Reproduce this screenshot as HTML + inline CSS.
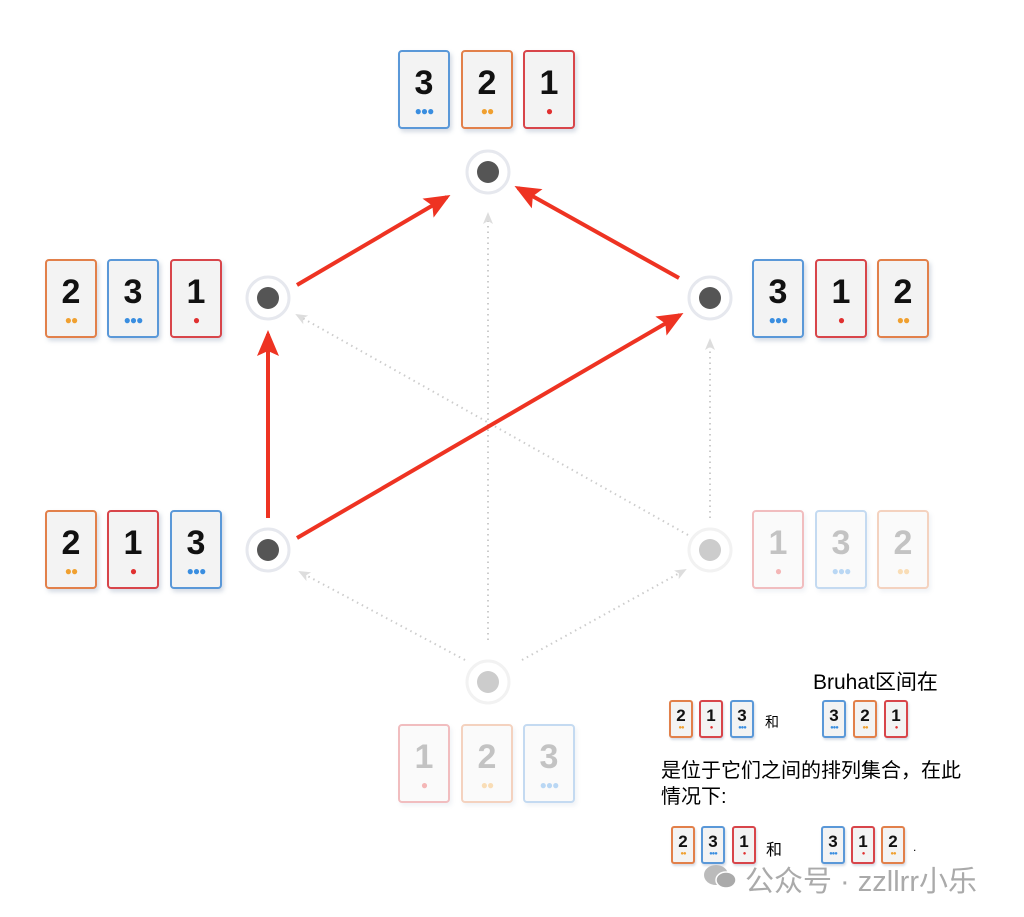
<!DOCTYPE html>
<html><head><meta charset="utf-8"><style>
body{margin:0;width:1024px;height:917px;background:#fff;position:relative;overflow:hidden;font-family:"Liberation Sans","Noto Sans CJK SC",sans-serif}
.c{position:absolute;width:48px;height:75px;border:2px solid;border-radius:4px;background:#f3f3f3;box-shadow:2px 3px 4px rgba(120,140,170,.3);text-align:center}
.c b{display:block;font-size:34px;font-weight:bold;line-height:34px;margin-top:14px;color:#111}
.c i{display:block;font-style:normal;font-size:12px;line-height:12px;margin-top:5px;letter-spacing:-1px}
.s{position:absolute;width:20px;height:34px;border:2px solid;border-radius:3px;background:#f3f3f3;text-align:center;box-shadow:1px 2px 2px rgba(120,140,170,.3)}
.s b{display:block;font-size:17px;line-height:17px;margin-top:5px;color:#111}
.s i{display:block;font-style:normal;font-size:6px;line-height:6px;margin-top:1px;letter-spacing:-1px}
.B{border-color:#5a98d8}.O{border-color:#e2804a}.R{border-color:#d8454a}
.B i{color:#3a8ee0}.O i{color:#f0a030}.R i{color:#e03030}
.f{opacity:.35}.f b{color:#555}
.t{position:absolute;color:#000;white-space:nowrap}
</style></head><body>
<svg width="1024" height="917" style="position:absolute;left:0;top:0">
<defs>
<marker id="ra" markerWidth="26" markerHeight="22" refX="22" refY="11" orient="auto" markerUnits="userSpaceOnUse"><path d="M0,0L26,11L0,22L5,11z" fill="#ee3322"/></marker>
<marker id="g" markerWidth="12" markerHeight="10" refX="10" refY="5" orient="auto" markerUnits="userSpaceOnUse"><path d="M0,0L12,5L0,10L3,5z" fill="#ddd"/></marker>
</defs>
<g stroke="#ccc" stroke-width="2" stroke-dasharray="1.5 4" fill="none">
<line x1="488" y1="640" x2="488" y2="214" marker-end="url(#g)"/>
<line x1="465" y1="660" x2="300" y2="572" marker-end="url(#g)"/>
<line x1="522" y1="660" x2="685" y2="570" marker-end="url(#g)"/>
<line x1="688" y1="535" x2="297" y2="315" marker-end="url(#g)"/>
<line x1="710" y1="518" x2="710" y2="340" marker-end="url(#g)"/>
</g>
<g stroke="#ee3322" stroke-width="4" fill="none">
<line x1="297" y1="285" x2="447" y2="197" marker-end="url(#ra)"/>
<line x1="679" y1="278" x2="518" y2="188" marker-end="url(#ra)"/>
<line x1="268" y1="518" x2="268" y2="334" marker-end="url(#ra)"/>
<line x1="297" y1="538" x2="680" y2="315" marker-end="url(#ra)"/>
</g>
<g fill="#fff" stroke="#e6e8ee" stroke-width="3">
<circle cx="488" cy="172" r="21"/><circle cx="268" cy="298" r="21"/><circle cx="710" cy="298" r="21"/>
<circle cx="268" cy="550" r="21"/><circle cx="710" cy="550" r="21" stroke="#f2f2f2"/><circle cx="488" cy="682" r="21" stroke="#f2f2f2"/>
</g>
<g fill="#555"><circle cx="488" cy="172" r="11"/><circle cx="268" cy="298" r="11"/><circle cx="710" cy="298" r="11"/><circle cx="268" cy="550" r="11"/></g>
<g fill="#ccc"><circle cx="710" cy="550" r="11"/><circle cx="488" cy="682" r="11"/></g>
</svg>

<div class="c B" style="left:398px;top:50px"><b>3</b><i>●●●</i></div>
<div class="c O" style="left:461px;top:50px"><b>2</b><i>●●</i></div>
<div class="c R" style="left:523px;top:50px"><b>1</b><i>●</i></div>

<div class="c O" style="left:45px;top:259px"><b>2</b><i>●●</i></div>
<div class="c B" style="left:107px;top:259px"><b>3</b><i>●●●</i></div>
<div class="c R" style="left:170px;top:259px"><b>1</b><i>●</i></div>

<div class="c B" style="left:752px;top:259px"><b>3</b><i>●●●</i></div>
<div class="c R" style="left:815px;top:259px"><b>1</b><i>●</i></div>
<div class="c O" style="left:877px;top:259px"><b>2</b><i>●●</i></div>

<div class="c O" style="left:45px;top:510px"><b>2</b><i>●●</i></div>
<div class="c R" style="left:107px;top:510px"><b>1</b><i>●</i></div>
<div class="c B" style="left:170px;top:510px"><b>3</b><i>●●●</i></div>

<div class="c R f" style="left:752px;top:510px"><b>1</b><i>●</i></div>
<div class="c B f" style="left:815px;top:510px"><b>3</b><i>●●●</i></div>
<div class="c O f" style="left:877px;top:510px"><b>2</b><i>●●</i></div>

<div class="c R f" style="left:398px;top:724px"><b>1</b><i>●</i></div>
<div class="c O f" style="left:461px;top:724px"><b>2</b><i>●●</i></div>
<div class="c B f" style="left:523px;top:724px"><b>3</b><i>●●●</i></div>

<div class="t" style="left:813px;top:666px;font-size:21px">Bruhat区间在</div>
<div class="s O" style="left:669px;top:700px"><b>2</b><i>●●</i></div>
<div class="s R" style="left:699px;top:700px"><b>1</b><i>●</i></div>
<div class="s B" style="left:730px;top:700px"><b>3</b><i>●●●</i></div>
<div class="t" style="left:765px;top:712px;font-size:14px">和</div>
<div class="s B" style="left:822px;top:700px"><b>3</b><i>●●●</i></div>
<div class="s O" style="left:853px;top:700px"><b>2</b><i>●●</i></div>
<div class="s R" style="left:884px;top:700px"><b>1</b><i>●</i></div>
<div class="t" style="left:661px;top:758px;font-size:20px;line-height:26px">是位于它们之间的排列集合，在此<br>情况下:</div>
<div class="s O" style="left:671px;top:826px"><b>2</b><i>●●</i></div>
<div class="s B" style="left:701px;top:826px"><b>3</b><i>●●●</i></div>
<div class="s R" style="left:732px;top:826px"><b>1</b><i>●</i></div>
<div class="t" style="left:766px;top:836px;font-size:16px">和</div>
<div class="s B" style="left:821px;top:826px"><b>3</b><i>●●●</i></div>
<div class="s R" style="left:851px;top:826px"><b>1</b><i>●</i></div>
<div class="s O" style="left:881px;top:826px"><b>2</b><i>●●</i></div>
<div class="t" style="left:913px;top:840px;font-size:12px">.</div>

<svg width="34" height="28" style="position:absolute;left:703px;top:863px"><ellipse cx="13" cy="12" rx="12" ry="10" fill="#bbb"/><ellipse cx="23" cy="17" rx="10" ry="8" fill="#aaa" stroke="#fff" stroke-width="1.5"/></svg>
<div class="t" style="left:745px;top:858px;font-size:29px;color:#aaa">公众号 · zzllrr小乐</div>
</body></html>
